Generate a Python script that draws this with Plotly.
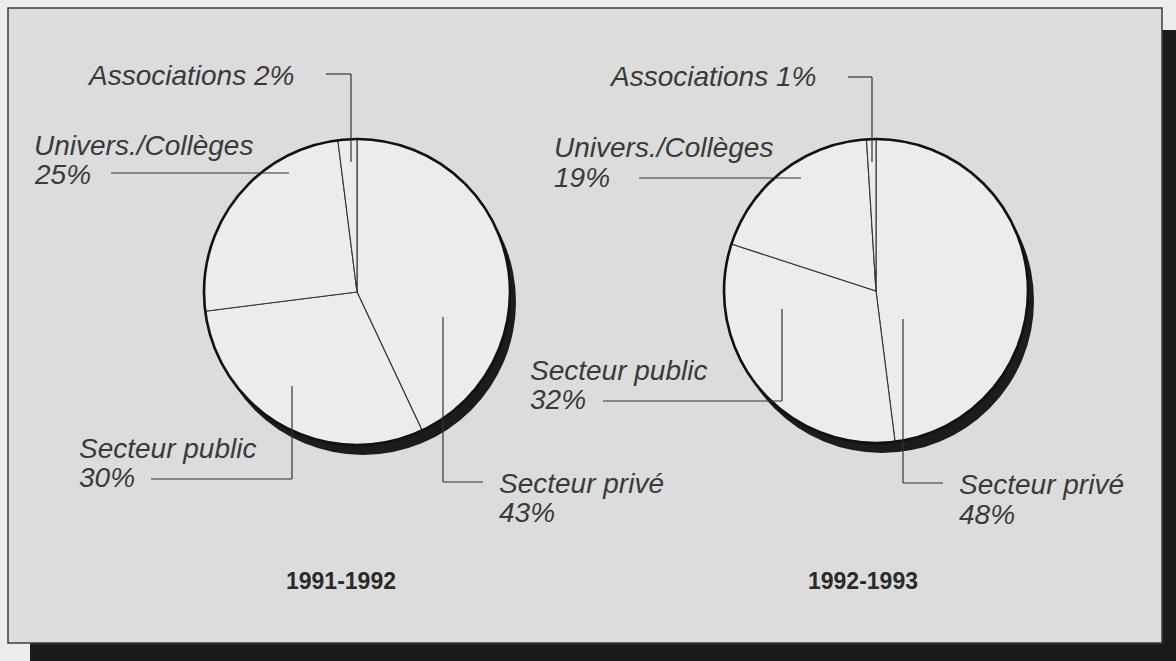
import plotly.graph_objects as go

# ---- data ----
categories = ["Secteur privé", "Secteur public", "Univers./Collèges", "Associations"]
values_1991 = [43, 30, 25, 2]
values_1992 = [48, 32, 19, 1]
periods = ["1991-1992", "1992-1993"]

W, H = 1176, 661


def X(px):
    return px / W


def Y(py):
    return 1 - py / H


PIE_FILL = "#ececec"
TEXT_COL = "#3a3a3a"
LINE_COL = "#333333"

fig = go.Figure()

# pie geometry (pixel centres, radius)
pies = [
    dict(cx=357, cy=292, r=153, vals=values_1991, name=periods[0], tx=341),
    dict(cx=876, cy=291, r=152, vals=values_1992, name=periods[1], tx=863),
]
SHX, SHY = 6, 10  # shadow offset

for p in pies:
    cx, cy, r = p["cx"], p["cy"], p["r"]
    # shadow disc
    fig.add_trace(go.Pie(
        values=[1], labels=["shadow"], sort=False,
        marker=dict(colors=["#1c1c1c"], line=dict(width=0)),
        textinfo="none", hoverinfo="skip", showlegend=False,
        domain=dict(x=[X(cx - r + SHX), X(cx + r + SHX)],
                    y=[Y(cy + r + SHY), Y(cy - r + SHY)]),
    ))
    # main pie
    fig.add_trace(go.Pie(
        values=p["vals"], labels=categories, name=p["name"], sort=False,
        direction="clockwise", rotation=0,
        marker=dict(colors=[PIE_FILL] * len(categories),
                    line=dict(color=LINE_COL, width=1.1)),
        textinfo="none", showlegend=False,
        domain=dict(x=[X(cx - r), X(cx + r)], y=[Y(cy + r), Y(cy - r)]),
    ))

shapes = []
# frame shadow and frame
shapes.append(dict(type="rect", xref="paper", yref="paper", layer="below",
                   x0=X(30), x1=X(1200), y0=Y(690), y1=Y(30),
                   fillcolor="#1b1b1b", line=dict(width=0)))
shapes.append(dict(type="rect", xref="paper", yref="paper", layer="below",
                   x0=X(8), x1=X(1162), y0=Y(643), y1=Y(8),
                   fillcolor="#dcdcdc", line=dict(color="#3c3c3c", width=1.5)))

# pie outlines
for p in pies:
    cx, cy, r = p["cx"], p["cy"], p["r"]
    shapes.append(dict(type="circle", xref="paper", yref="paper",
                       x0=X(cx - r), x1=X(cx + r), y0=Y(cy + r), y1=Y(cy - r),
                       line=dict(color="#111111", width=2.6)))


def seg(x0, y0, x1, y1):
    shapes.append(dict(type="line", xref="paper", yref="paper",
                       x0=X(x0), y0=Y(y0), x1=X(x1), y1=Y(y1),
                       line=dict(color=LINE_COL, width=1.2)))


# leader lines, pie 1
seg(326, 74, 351, 74); seg(351, 74, 351, 162)          # Associations
seg(111, 173, 289, 173)                                # Univers.
seg(151, 479, 292, 479); seg(292, 479, 292, 386)       # public
seg(443, 317, 443, 482); seg(443, 482, 483, 482)       # privé
# leader lines, pie 2
seg(848, 77, 872, 77); seg(872, 77, 872, 162)
seg(639, 178, 801, 178)
seg(603, 401, 782, 401); seg(782, 401, 782, 309)
seg(903, 319, 903, 483); seg(903, 483, 943, 483)

annotations = []
LF = dict(family="Liberation Sans, Arial, sans-serif", size=28, color=TEXT_COL,
          style="italic")


def lab(text, x, y, h=None):
    a = dict(text=text, x=X(x), y=Y(y), xref="paper", yref="paper",
             xanchor="left", yanchor="middle", showarrow=False, font=LF)
    if h is not None:
        a["height"] = h
        a["valign"] = "middle"
    annotations.append(a)


label_pos = [
    # (privé, public, univers, assoc) per pie: (x, y line1)
    [(497, 483), (77, 448), (32, 145), (85, 75)],
    [(957, 485), (528, 370), (552, 148), (607, 76)],
]
for vals, pos in zip([values_1991, values_1992], label_pos):
    for i, cat in enumerate(categories):
        x, y = pos[i]
        if cat == "Associations":
            lab(f"{cat} {vals[i]}%", x, y)
        else:
            lab(cat, x, y)
            lab(f"{vals[i]}%", x, y + 29, h=24)

for p in pies:
    annotations.append(dict(text=f"<b>{p['name']}</b>", x=X(p["tx"]),
                            y=Y(581), xref="paper", yref="paper",
                            xanchor="center", yanchor="middle", showarrow=False,
                            font=dict(family="Liberation Sans, Arial, sans-serif",
                                      size=23, color="#2a2a2a")))

fig.update_layout(
    width=W, height=H, autosize=False,
    margin=dict(l=0, r=0, t=0, b=0),
    paper_bgcolor="#ececec", plot_bgcolor="#ececec",
    shapes=shapes, annotations=annotations, showlegend=False,
)

fig.write_html("out.html", config={"displayModeBar": False},
               post_script="document.body.style.margin='0';"
                           "document.body.style.overflow='hidden';")
